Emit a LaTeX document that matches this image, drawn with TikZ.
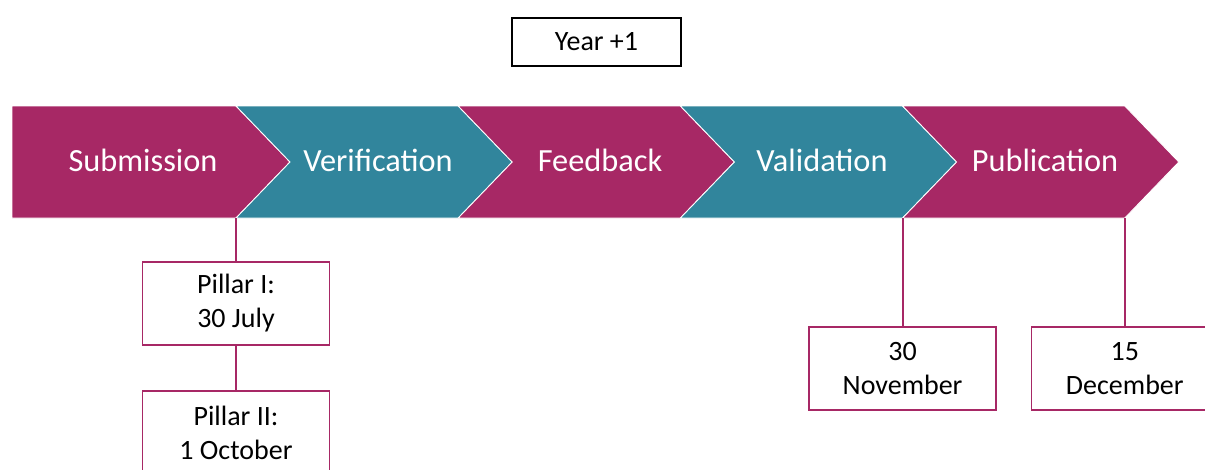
\documentclass[tikz,border=0pt]{standalone}
\usepackage{fontspec}
\setmainfont{Carlito}
\usetikzlibrary{positioning}
\definecolor{plum}{RGB}{167,40,101}
\definecolor{petrol}{RGB}{49,133,156}

\begin{document}
\begin{tikzpicture}[x=0.025cm, y=-0.025cm,
		steplabel/.style={text=white, anchor=base, font=\fontsize{23}{28}\selectfont},
		datebox/.style={draw=plum, line width=1.1pt, fill=white, inner sep=0pt,
			minimum width=4.675cm, minimum height=2.075cm, align=center,
			font=\fontsize{19.9}{24.5}\selectfont},
		link/.style={draw=plum, line width=1.4pt}]
			\useasboundingbox (0,0) rectangle (1205,469);
			\node [draw, line width=0.8pt, minimum width=4.225cm, minimum height=1.2cm,
				font=\fontsize{19.9}{24.5}\selectfont] (year) at (596.5,42) {Year +1};
			%
			\fill [plum, draw=white, line width=0.6pt] (12,106) -- (236,106) -- (290,162) -- (236,218) -- (12,218) -- cycle;
			\foreach \i/\col in {1/petrol, 2/plum, 3/petrol, 4/plum} {
				\fill [\col, draw=white, line width=0.6pt] ({236+222.2*(\i-1)},106) -- ++(222.2,0) -- ++(54,56)
					-- ++(-54,56) -- ++(-222.2,0) -- ++(54,-56) -- cycle;
			}
			\foreach \i in {0,...,4}
				\coordinate (b\i) at ({236+222.2*\i},218);
			\foreach \i/\x/\lbl in {0/143/Submission, 1/378/Verification, 2/600/Feedback, 3/822/Validation, 4/1045/Publication}
				\node [steplabel] (s\i) at (\x,171) {\lbl};
			%
			\node [datebox, below=1.075cm of b0] (pill1) {Pillar I:\\30 July};
			\node [datebox, below=1.12cm of pill1] (pill2) {Pillar II:\\1 October};
			\node [datebox, below=2.7cm of b3] (nov) {30\\November};
			\node [datebox, below=2.7cm of b4] (dec) {15\\December};
			%
			\draw [link] (b0) -- (pill1);
			\draw [link] (pill1) -- (pill2);
			\draw [link] (b3) -- (nov);
			\draw [link] (b4) -- (dec);
		\end{tikzpicture}
\end{document}
